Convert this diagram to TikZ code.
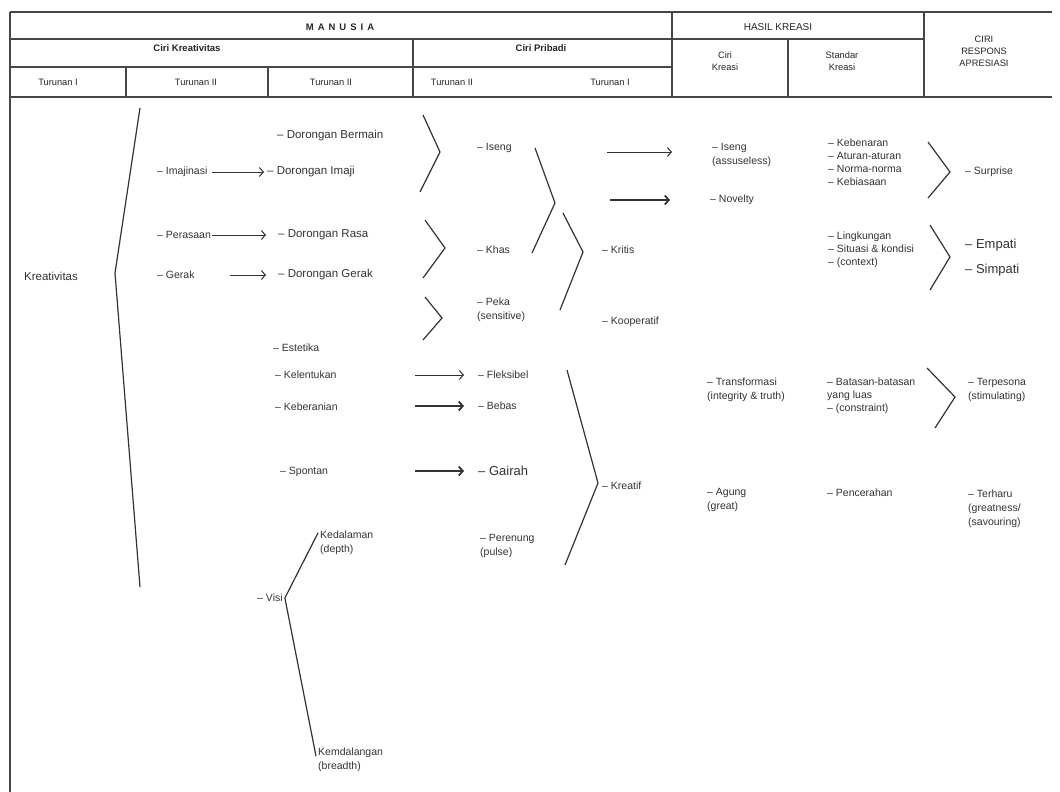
\documentclass[tikz,border=0pt]{standalone}
\usepackage{fontspec}
\setmainfont{Liberation Sans}
\usetikzlibrary{arrows.meta}
\begin{document}
\begin{tikzpicture}[x=1pt,y=-1pt,
  grid/.style={line width=1.4pt, draw=black!72},
  brk/.style={line width=1.2pt, draw=black!80, line join=miter},
  arr/.style={line width=1pt, draw=black!80, -{Straight Barb[length=4pt,width=9pt]}},
  arrb/.style={arr, line width=1.8pt},
  hd/.style={font=\fontsize{9.5}{11}\selectfont\bfseries, text=black!85, inner sep=0},
  hr/.style={font=\fontsize{9.3}{12}\selectfont, text=black!85, inner sep=0, align=center},
  tx/.style={font=\fontsize{10.5}{14}\selectfont, text=black!80, anchor=west, inner sep=0, align=left},
  tl/.style={tx, font=\fontsize{10.5}{13}\selectfont},
  tb/.style={tx, font=\fontsize{11.5}{14}\selectfont},
  big/.style={tx, font=\fontsize{13}{15}\selectfont}
]
\fill[white] (0,0) rectangle (1060,792);
\useasboundingbox (0,0) rectangle (1060,792);

% ---------- table grid ----------
\draw[grid] (10,12) -- (1052,12);
\draw[grid] (10,39) -- (924,39);
\draw[grid] (10,67) -- (672,67);
\draw[grid] (10,97) -- (1052,97);
\draw[grid] (10,12) -- (10,792);
\draw[grid] (126,67) -- (126,97);
\draw[grid] (268,67) -- (268,97);
\draw[grid] (413,39) -- (413,97);
\draw[grid] (672,12) -- (672,97);
\draw[grid] (788,39) -- (788,97);
\draw[grid] (924,12) -- (924,97);

% ---------- header texts ----------
\node[hd] (manusia) at (340,27) {M\hspace{4pt}A\hspace{4pt}N\hspace{4pt}U\hspace{4pt}S\hspace{4pt}I\hspace{4pt}A};
\node[hd] (cirikre) at (187,48) {Ciri Kreativitas};
\node[hd] (ciripri) at (541,48) {Ciri Pribadi};
\node[hr] (t1) at (58,82) {Turunan I};
\node[hr] (t2) at (196,82) {Turunan II};
\node[hr] (t3) at (331,82) {Turunan II};
\node[hr] (t4) at (452,82) {Turunan II};
\node[hr] (t5) at (610,82) {Turunan I};
\node[hr, font=\fontsize{10}{12}\selectfont] (hasil) at (778,27) {HASIL KREASI};
\node[hr] (cirik) at (725,61) {Ciri\\Kreasi};
\node[hr] (stand) at (842,61) {Standar\\Kreasi};
\node[hr] (resp) at (984,51) {CIRI\\RESPONS\\APRESIASI};

% ---------- Ciri Kreativitas ----------
\node[tb] (kreat) at (24,276) {Kreativitas};
\node[tx] (imaj) at (157,172) {– Imajinasi};
\node[tb] (dbermain) at (277,136) {– Dorongan Bermain};
\node[tb] (dimaji) at (267,172) {– Dorongan Imaji};
\node[tx] (peras) at (157,235) {– Perasaan};
\node[tb] (drasa) at (278,235) {– Dorongan Rasa};
\node[tx] (gerak) at (157,275) {– Gerak};
\node[tb] (dgerak) at (278,275) {– Dorongan Gerak};
\node[tx] (estet) at (273,348) {– Estetika};
\node[tx] (kelen) at (275,375) {– Kelentukan};
\node[tx] (keber) at (275,407) {– Keberanian};
\node[tx] (spont) at (280,472) {– Spontan};
\node[tx] (visi) at (257,598) {– Visi};
\node[tx] (kedal) at (320,543) {Kedalaman\\(depth)};
\node[tx] (kemda) at (318,760) {Kemdalangan\\(breadth)};

% ---------- Ciri Pribadi ----------
\node[tx] (iseng) at (477,148) {– Iseng};
\node[tx] (khas) at (477,250) {– Khas};
\node[tx] (peka) at (477,310) {– Peka\\(sensitive)};
\node[tx] (fleks) at (478,375) {– Fleksibel};
\node[tx] (bebas) at (478,406) {– Bebas};
\node[big] (gairah) at (478,471) {– Gairah};
\node[tx] (peren) at (480,546) {– Perenung\\(pulse)};
\node[tx] (kritis) at (602,250) {– Kritis};
\node[tx] (koop) at (602,322) {– Kooperatif};
\node[tx] (kreatif) at (602,486) {– Kreatif};

% ---------- Hasil Kreasi ----------
\node[tx] (iseng2) at (712,155) {– Iseng\\(assuseless)};
\node[tx] (novel) at (710,200) {– Novelty};
\node[tx] (transf) at (707,390) {– Transformasi\\(integrity \& truth)};
\node[tx] (agung) at (707,500) {– Agung\\(great)};
\node[tl] (kebe) at (828,162) {– Kebenaran\\– Aturan-aturan\\– Norma-norma\\– Kebiasaan};
\node[tl] (lingk) at (828,250) {– Lingkungan\\– Situasi \& kondisi\\– (context)};
\node[tl] (batas) at (827,396) {– Batasan-batasan\\yang luas\\– (constraint)};
\node[tx] (pencer) at (827,493) {– Pencerahan};

% ---------- Ciri Respons ----------
\node[tx] (surp) at (965,172) {– Surprise};
\node[big] (empati) at (965,245) {– Empati};
\node[big] (simpati) at (965,270) {– Simpati};
\node[tx] (terpes) at (968,390) {– Terpesona\\(stimulating)};
\node[tx] (terharu) at (968,509) {– Terharu\\(greatness/\\(savouring)};

% ---------- brackets ----------
\draw[brk] (140,108) -- (115,273) -- (140,587);
\draw[brk] (423,115) -- (440,152) -- (420,192);
\draw[brk] (425,220) -- (445,248) -- (423,278);
\draw[brk] (425,297) -- (442,318) -- (423,340);
\draw[brk] (535,148) -- (555,203) -- (532,253);
\draw[brk] (563,213) -- (583,252) -- (560,310);
\draw[brk] (567,370) -- (598,483) -- (565,565);
\draw[brk] (928,142) -- (950,172) -- (928,198);
\draw[brk] (930,225) -- (950,257) -- (930,290);
\draw[brk] (927,368) -- (955,397) -- (935,428);
\path (visi.east) ++(2,0) coordinate (vv) (kedal.north west) ++(-2,2) coordinate (vk) (kemda.south west) ++(-2,-16) coordinate (vm);
\draw[brk] (vk) -- (vv) -- (vm);

% ---------- arrows ----------
\coordinate (a3) at (230,275);
\coordinate (a4) at (415,375);
\coordinate (a5) at (415,406);
\coordinate (a6) at (415,471);
\coordinate (a7) at (607,152);
\coordinate (a8) at (610,200);
\draw[arr, shorten <=4pt, shorten >=3pt] (imaj.east) -- (dimaji.west);
\draw[arr, shorten <=1pt, shorten >=12pt] (peras.east) -- (drasa.west);
\draw[arr, shorten >=12pt] (a3) -- (drasa.west |- a3);
\draw[arr, shorten >=14pt] (a4) -- (fleks.west);
\draw[arrb, shorten >=14pt] (a5) -- (bebas.west);
\draw[arrb, shorten >=14pt] (a6) -- (gairah.west);
\draw[arr, shorten >=40pt] (a7) -- (a7 -| iseng2.west);
\draw[arrb, shorten >=40pt] (a8) -- (novel.west);
\end{tikzpicture}
\end{document}
